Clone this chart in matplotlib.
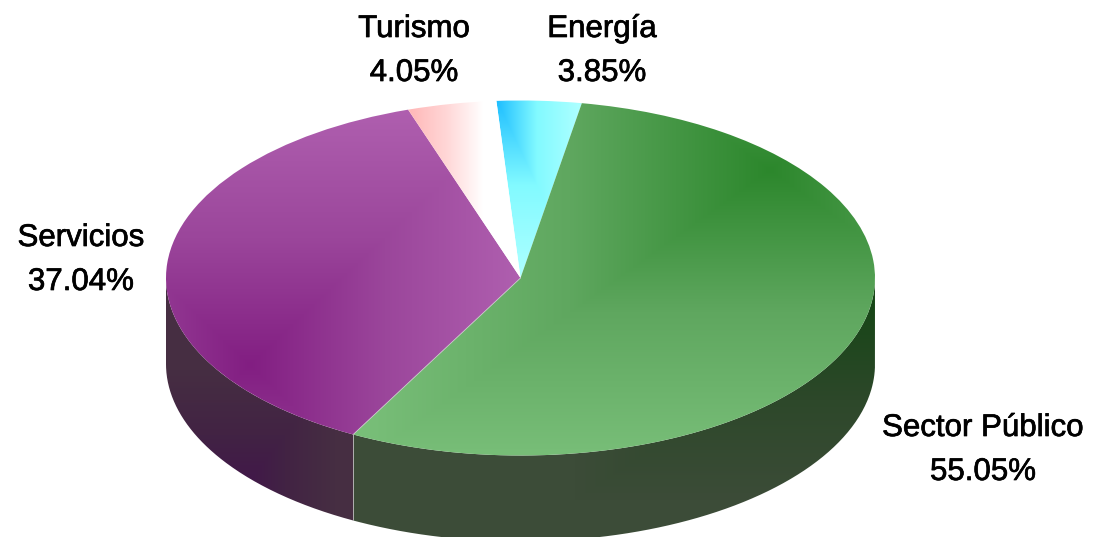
import numpy as np
import matplotlib
matplotlib.use("Agg")
import matplotlib.pyplot as plt
import matplotlib.patheffects as pe
from matplotlib.path import Path
from matplotlib.patches import PathPatch
from matplotlib.transforms import Affine2D

# data, clockwise from the top
categorias = ["Energía", "Sector Público", "Servicios", "Turismo"]
valores = [3.85, 55.05, 37.04, 4.05]
etiquetas = ["3.85%", "55.05%", "37.04%", "4.05%"]

W, H = 1094, 537
cx, cy, rx, ry = 520.5, 278, 354.5, 177.5
depth = 86
start = 93.9

# gradient: focus point, the distances where t reaches 1 (dx, dy), and color stops
top_grad = {
    "Energía": ((497, 100), (80, 170), [(30, 190, 255), (130, 250, 255), (170, 255, 255)]),
    "Sector Público": ((770, 170), (400, 285), [(44, 135, 44), (95, 167, 95), (120, 190, 120)]),
    "Servicios": ((250, 365), (270, 255), [(130, 30, 130), (155, 70, 155), (175, 95, 175)]),
    "Turismo": ((411, 110), (72, 10000), [(255, 185, 185), (255, 215, 215), (255, 255, 255)]),
}
side_grad = {
    "Sector Público": ((875, 300), (300, 200), [(22, 70, 22), (45, 72, 42), (60, 76, 56)]),
    "Servicios": ((235, 500), (100, 130), [(65, 20, 75), (66, 35, 68), (70, 46, 66)]),
}

plt.rcParams["font.family"] = ["Liberation Sans"]
fig = plt.figure(figsize=(W / 100, H / 100), dpi=100)
ax = fig.add_axes([0, 0, 1, 1])
ax.set_xlim(0, W)
ax.set_ylim(H, 0)
ax.axis("off")

yy, xx = np.mgrid[0:H, 0:W] + 0.5


def pintar(path, grad, z):
    (fx, fy), (dx, dy), stops = grad
    t = np.maximum(np.abs(xx - fx) / dx, np.abs(yy - fy) / dy)
    t = np.clip(t, 0, 1)
    stops = np.array(stops) / 255
    pos = np.linspace(0, 1, len(stops))
    img = np.dstack([np.interp(t, pos, stops[:, i]) for i in range(3)])
    im = ax.imshow(img, extent=(0, W, H, 0), zorder=z, aspect="auto", interpolation="bilinear")
    patch = PathPatch(path, transform=ax.transData, fc="none", ec="none")
    ax.add_patch(patch)
    im.set_clip_path(patch)


def lado(a, b):
    a, b = max(a, -180), min(b, 0)
    th = np.radians(np.linspace(a, b, 200))
    x = cx + rx * np.cos(th)
    y = cy - ry * np.sin(th)
    pts = np.vstack([np.column_stack([x, y]), np.column_stack([x, y + depth])[::-1]])
    return Path(pts, closed=False)


elipse = Affine2D().scale(rx, -ry).translate(cx, cy)
ang = start
limites = {}
for cat, v in zip(categorias, valores):
    fin = ang - 360 * v / sum(valores)
    limites[cat] = (fin, ang)
    if cat in side_grad:
        pintar(lado(fin, ang), side_grad[cat], 1)
    pintar(Path.wedge(fin, ang).transformed(elipse), top_grad[cat], 2)
    ang = fin

# thin light line between the two big slices
b = np.radians(limites["Sector Público"][0])
bx, by = cx + rx * np.cos(b), cy - ry * np.sin(b)
ax.plot([cx, bx], [cy, by], color="#c8c8c8", lw=0.6, zorder=3)
ax.plot([bx, bx], [by, by + depth], color="#b0b0b0", lw=0.7, zorder=3)

# labels
pos_texto = {
    "Energía": (602, 29),
    "Sector Público": (983, 428),
    "Servicios": (81, 238),
    "Turismo": (414, 29),
}
grueso = [pe.withStroke(linewidth=0.5, foreground="black")]
for cat, et in zip(categorias, etiquetas):
    x, y = pos_texto[cat]
    ax.text(x, y, cat, ha="center", va="center", fontsize=22.5, color="black", zorder=5, path_effects=grueso)
    ax.text(x, y + 44, et, ha="center", va="center", fontsize=22.5, color="black", zorder=5, path_effects=grueso)

ax.set_xlim(0, W)
ax.set_ylim(H, 0)
fig.savefig("out.png", dpi=100)
